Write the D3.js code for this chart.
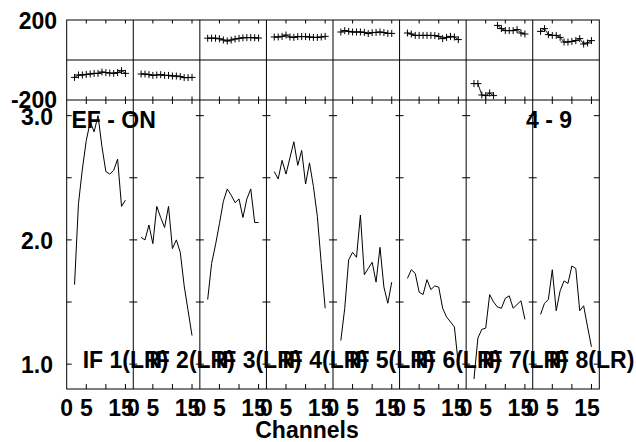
<!DOCTYPE html>
<html><head><meta charset="utf-8">
<script src="https://cdn.jsdelivr.net/npm/d3@7"></script>
<style>
body{margin:0;background:#fff}
text{font-family:"Liberation Sans",Arial,Helvetica,sans-serif;font-weight:bold;fill:#000;font-size:23px}
</style>
</head><body><svg id="c" width="636" height="442"></svg>
<script>
// ---- data ----
const channels = [2,3,4,5,6,7,8,9,10,11,12,13,14,15];
const ifLabels = ["IF 1(LR)","IF 2(LR)","IF 3(LR)","IF 4(LR)","IF 5(LR)","IF 6(LR)","IF 7(LR)","IF 8(LR)"];

const amp1 = [1.64,2.29,2.57,2.80,2.95,2.87,3.00,2.75,2.55,2.53,2.56,2.65,2.27,2.32];
const amp2 = [2.02,2.00,2.12,1.97,2.27,2.18,2.10,2.27,1.93,2.00,1.90,1.63,1.43,1.23];
const amp3 = [1.52,1.81,1.96,2.13,2.31,2.41,2.36,2.30,2.33,2.18,2.33,2.41,2.14,2.14];
const amp4 = [2.55,2.49,2.64,2.53,2.66,2.79,2.60,2.72,2.45,2.62,2.43,2.19,1.81,1.45];
const amp5 = [1.19,1.45,1.84,1.90,1.86,2.20,1.72,1.77,1.82,1.66,1.94,1.62,1.49,1.66];
const amp6 = [1.69,1.76,1.73,1.58,1.56,1.68,1.60,1.63,1.62,1.45,1.38,1.34,1.30,1.00];
const amp7 = [0.88,1.21,1.28,1.29,1.56,1.50,1.46,1.45,1.53,1.55,1.45,1.48,1.51,1.36];
const amp8 = [1.40,1.49,1.52,1.76,1.43,1.59,1.67,1.65,1.79,1.77,1.43,1.47,1.30,1.14];

const phase1 = [-87,-75,-75,-72,-70,-67,-67,-60,-63,-65,-67,-63,-53,-67];
const phase2 = [-70,-70,-73,-77,-75,-73,-77,-77,-80,-80,-83,-88,-88,-87];
const phase3 = [109,109,109,106,100,95,100,105,108,111,112,112,111,110];
const phase4 = [115,115,118,125,115,113,117,117,117,115,113,113,115,118];
const phase5 = [140,147,143,140,140,140,138,132,137,138,140,137,133,133];
const phase6 = [135,130,123,123,123,123,123,122,118,107,113,118,115,102];
const phase7 = [-118,-118,-175,-178,-165,-178,173,157,147,147,147,152,135,130];
const phase8 = [143,157,127,123,123,113,90,90,93,97,107,80,85,97];

const ampSeries = [amp1,amp2,amp3,amp4,amp5,amp6,amp7,amp8];
const phaseSeries = [phase1,phase2,phase3,phase4,phase5,phase6,phase7,phase8];

const ampTickValues = [1.0,1.5,2.0,2.5,3.0];
const ampTickLabels = [{v:1.0,t:"1.0"},{v:2.0,t:"2.0"},{v:3.0,t:"3.0"}];
const phaseTickLabels = [{v:200,t:"200"},{v:-200,t:"-200"}];
const chanTickValues = [5,10,15];
const chanTickLabels = [{v:0,t:"0"},{v:5,t:"5"},{v:15,t:"15"}];
const titleLeft = "EF - ON";
const titleRight = "4 - 9";
const xTitle = "Channels";

// ---- layout ----
const L = 66.7, R = 599.3, phTop = 20, phBot = 100, ampBot = 389;
const nPan = 8;
const svg = d3.select("#c");
const g = svg.append("g");

const xPanel = d3.scaleLinear().domain([0,nPan]).range([L,R]);
const yPh = d3.scaleLinear().domain([-200,200]).range([phBot,phTop]);
const yAmp = d3.scaleLinear().domain([0.8,3.126]).range([ampBot,phBot]);
const xs = d3.range(nPan).map(i => d3.scaleLinear().domain([0,17]).range([xPanel(i),xPanel(i+1)]));

const stroke = "#000";
function line(x1,y1,x2,y2,w){
  g.append("line").attr("x1",x1).attr("y1",y1).attr("x2",x2).attr("y2",y2)
   .attr("stroke",stroke).attr("stroke-width",w||1);
}

// frames
g.append("rect").attr("x",L).attr("y",phTop).attr("width",R-L).attr("height",ampBot-phTop)
 .attr("fill","none").attr("stroke",stroke);
line(L,phBot,R,phBot);
line(L,yPh(0),R,yPh(0));
for(let i=1;i<nPan;i++) line(xPanel(i),phTop,xPanel(i),ampBot);

// x ticks
xs.forEach(x=>{
  chanTickValues.forEach(v=>{
    const px = x(v);
    line(px,phTop,px,phTop+3.5);
    line(px,phBot-3.5,px,phBot+4);
    line(px,ampBot,px,ampBot-5);
  });
});
// amp y ticks
ampTickValues.forEach(v=>{
  const py = yAmp(v);
  line(L,py,L+5,py);
  line(R-5.5,py,R,py);
  for(let i=1;i<nPan;i++) line(xPanel(i)-4,py,xPanel(i)+4,py);
});

// amplitude lines
const ampLine = (x)=>d3.line().x((d,j)=>x(channels[j])).y(d=>yAmp(d));
ampSeries.forEach((s,i)=>{
  g.append("path").attr("d",ampLine(xs[i])(s)).attr("fill","none")
   .attr("stroke","#000").attr("stroke-width",1).attr("stroke-linejoin","miter");
});

// phase lines with cross markers
phaseSeries.forEach((s,i)=>{
  const x = xs[i];
  // connect consecutive points only if no wrap jump
  const segs = [];
  let cur = [];
  s.forEach((d,j)=>{
    if(j>0 && Math.abs(d - s[j-1])>180){ segs.push(cur); cur=[]; }
    cur.push([x(channels[j]), yPh(d)]);
  });
  segs.push(cur);
  segs.forEach(seg=>{
    g.append("path").attr("d",d3.line()(seg)).attr("fill","none").attr("stroke","#000").attr("stroke-width",0.9);
  });
  s.forEach((d,j)=>{
    const px = x(channels[j]), py = yPh(d);
    g.append("path").attr("d",`M${px-3.5},${py}H${px+3.5}M${px},${py-3.5}V${py+3.5}`)
     .attr("stroke","#000").attr("stroke-width",1).attr("fill","none");
  });
});

// labels
phaseTickLabels.forEach(d=>{
  g.append("text").attr("x",57).attr("y",yPh(d.v)+(d.v>0?9.3:8)).attr("text-anchor","end").text(d.t);
});
ampTickLabels.forEach(d=>{
  g.append("text").attr("x",53).attr("y",yAmp(d.v)+9).attr("text-anchor","end").text(d.t);
});
xs.forEach(x=>{
  chanTickLabels.forEach(d=>{
    const off = d.v===15 ? -4.5 : 0;
    g.append("text").attr("x",x(d.v)+off).attr("y",416).attr("text-anchor","middle").text(d.t);
  });
});
g.append("text").attr("x",307).attr("y",438).attr("text-anchor","middle").text(xTitle);
g.append("text").attr("x",71.5).attr("y",128.3).text(titleLeft);
g.append("text").attr("x",572).attr("y",128.3).attr("text-anchor","end").text(titleRight);
ifLabels.forEach((t,i)=>{
  g.append("text").attr("x",xPanel(i)+16).attr("y",368.3).text(t);
});
</script>
</body></html>
